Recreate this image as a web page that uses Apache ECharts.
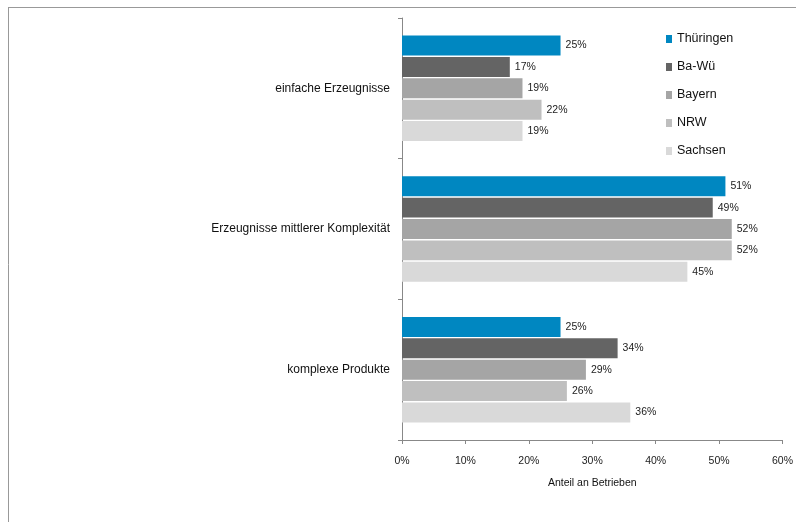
<!DOCTYPE html>
<html>
<head>
<meta charset="utf-8">
<script src="https://cdn.jsdelivr.net/npm/echarts@6/dist/echarts.min.js"></script>
<style>
  html, body { margin: 0; padding: 0; background: #fff; }
  #chart { width: 796px; height: 522px; }
</style>
</head>
<body>
<div id="chart"></div>
<script>
// Product complexity categories (top to bottom)
const categories = ['einfache Erzeugnisse', 'Erzeugnisse mittlerer Komplexität', 'komplexe Produkte'];

// Share of firms per region, in percent
const thueringen = [25, 51, 25];
const baWue = [17, 49, 34];
const bayern = [19, 52, 29];
const nrw = [22, 52, 26];
const sachsen = [19, 45, 36];

const regionNames = ['Thüringen', 'Ba-Wü', 'Bayern', 'NRW', 'Sachsen'];
const regionValues = [thueringen, baWue, bayern, nrw, sachsen];
const regionColors = ['#0087C1', '#646464', '#A5A5A5', '#BFBFBF', '#D9D9D9'];

const FONT = '"Liberation Sans Narrow", "Arial Narrow", "Liberation Sans", Arial, sans-serif';

const chart = echarts.init(document.getElementById('chart'), null, { renderer: 'canvas' });

const series = regionNames.map((name, i) => ({
  name: name,
  type: 'bar',
  data: regionValues[i],
  barGap: '7%',
  barCategoryGap: '25%',
  itemStyle: { color: regionColors[i] },
  label: {
    show: true,
    position: 'right',
    distance: 5,
    formatter: p => p.value + '%',
    color: '#222',
    fontFamily: FONT,
    fontSize: 10.5
  }
}));

chart.setOption({
  animation: false,
  backgroundColor: '#fff',
  graphic: [
    { type: 'line', shape: { x1: 8, y1: 7.5, x2: 796, y2: 7.5 }, style: { stroke: '#999', lineWidth: 1 } },
    { type: 'line', shape: { x1: 8.5, y1: 7, x2: 8.5, y2: 522 }, style: { stroke: '#999', lineWidth: 1 } }
  ],
  legend: {
    orient: 'vertical',
    left: 666,
    top: 31,
    padding: 0,
    itemWidth: 6,
    itemHeight: 8,
    itemGap: 12,
    icon: 'rect',
    textStyle: { fontFamily: FONT, fontSize: 12.5, color: '#111', lineHeight: 16 },
    data: regionNames
  },
  grid: { left: 402, right: 13, top: 18, bottom: 82, containLabel: false },
  xAxis: {
    type: 'value',
    min: 0,
    max: 60,
    interval: 10,
    name: 'Anteil an Betrieben',
    nameLocation: 'middle',
    nameGap: 38,
    nameTextStyle: { fontFamily: FONT, fontSize: 10.5, color: '#111' },
    axisLine: { show: true, lineStyle: { color: '#888' } },
    axisTick: { show: true, length: 4, lineStyle: { color: '#888' } },
    axisLabel: { formatter: v => v + '%', fontFamily: FONT, fontSize: 10.5, color: '#222', margin: 16 },
    splitLine: { show: false }
  },
  yAxis: {
    type: 'category',
    inverse: true,
    data: categories,
    axisLine: { show: true, lineStyle: { color: '#888' } },
    axisTick: { show: true, length: 4, lineStyle: { color: '#888' } },
    axisLabel: { fontFamily: FONT, fontSize: 12, color: '#111', margin: 12 }
  },
  series: series
});
</script>
</body>
</html>
